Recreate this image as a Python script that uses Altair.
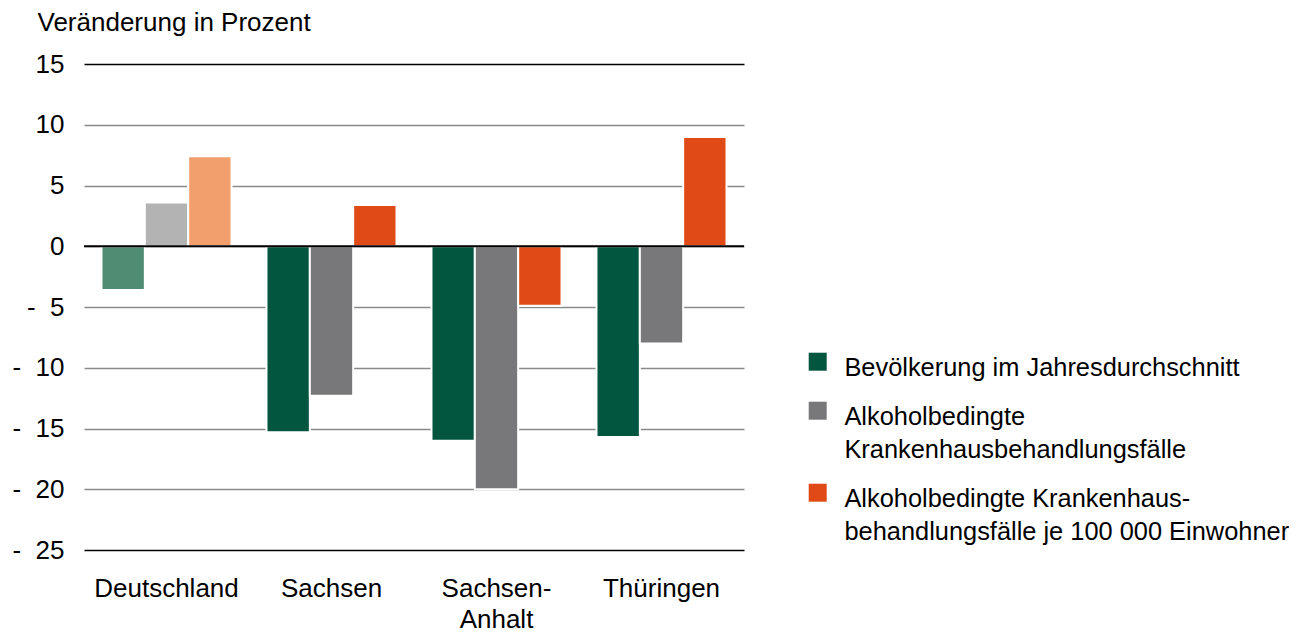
import altair as alt
import pandas as pd

# ---- data ----
regions = ["Deutschland", "Sachsen", "Sachsen-Anhalt", "Thüringen"]
legend_lines = [
    ["Bevölkerung im Jahresdurchschnitt"],
    ["Alkoholbedingte", "Krankenhausbehandlungsfälle"],
    ["Alkoholbedingte Krankenhaus-", "behandlungsfälle je 100 000 Einwohner"],
]
bevoelkerung = [-3.6, -15.3, -16.0, -15.7]
faelle = [3.6, -12.3, -20.0, -8.0]
faelle_je_100000 = [7.4, 3.4, -4.9, 9.0]
y_ticks = [-25, -20, -15, -10, -5, 0, 5, 10, 15]

colors_main = ["#02553f", "#78787a", "#df4a16"]
colors_light = ["#508b73", "#b3b3b4", "#f29f6d"]
highlight_region = "Deutschland"

series_keys = ["|".join(l) for l in legend_lines]
values = [bevoelkerung, faelle, faelle_je_100000]

rows = []
for i, r in enumerate(regions):
    for j, key in enumerate(series_keys):
        rows.append({
            "Region": r,
            "Reihe": key,
            "Farbe": ("D:" + key) if r == highlight_region else key,
            "Wert": values[j][i],
        })
df = pd.DataFrame(rows)
zero_df = pd.DataFrame({"Wert": [0]})

FONT = "Liberation Sans"
FS = 26
LEGEND_FS = 25.4

x_label_expr = (
    "indexof(datum.label, '-') > 0 ? "
    "[slice(datum.label, 0, indexof(datum.label, '-') + 1), "
    "slice(datum.label, indexof(datum.label, '-') + 1)] : datum.label"
)
y_label_expr = "datum.value < 0 ? '-\u00a0\u00a0' + abs(datum.value) : '' + datum.value"

# square symbol, shifted slightly downward so it lines up with the first text line
legend_symbol = "M-1,-0.333H1V1.667H-1Z"

bars = alt.Chart(df).mark_bar(stroke="white", strokeWidth=2).encode(
    x=alt.X(
        "Region:N",
        sort=regions,
        scale=alt.Scale(paddingInner=0.212, paddingOuter=0.106),
        axis=alt.Axis(
            title=None, domain=False, ticks=False, tickSize=0, labelAngle=0,
            labelExpr=x_label_expr, labelFontSize=FS, labelColor="black",
            labelPadding=25, labelLineHeight=31, labelBaseline="top",
        ),
    ),
    xOffset=alt.XOffset("Reihe:N", sort=series_keys,
                        scale=alt.Scale(paddingInner=0, paddingOuter=0)),
    y=alt.Y(
        "Wert:Q",
        scale=alt.Scale(domain=[-25, 15], nice=False),
        axis=alt.Axis(
            values=y_ticks, domain=False, ticks=False, tickSize=0,
            labelExpr=y_label_expr, labelFontSize=FS, labelColor="black",
            labelPadding=20,
            gridColor=alt.condition("datum.value == 15 || datum.value == -25",
                                    alt.value("black"), alt.value("#8a8a8a")),
            gridWidth=1.6,
            title="Veränderung in Prozent", titleAngle=0, titleAlign="left",
            titleBaseline="alphabetic", titleX=-47, titleY=-34,
            titleFontSize=FS, titleFontWeight="normal", titleColor="black",
        ),
    ),
    color=alt.Color(
        "Farbe:N",
        scale=alt.Scale(domain=series_keys + ["D:" + k for k in series_keys],
                        range=colors_main + colors_light),
        legend=alt.Legend(
            values=series_keys, title=None, orient="none",
            legendX=721, legendY=279, direction="vertical", padding=0,
            symbolType=legend_symbol, symbolSize=324, symbolStrokeWidth=0,
            labelExpr="split(datum.label, '|')", labelFontSize=LEGEND_FS,
            labelColor="black", labelBaseline="top", labelOffset=14,
            labelLimit=1000, rowPadding=10,
        ),
    ),
)

zero = alt.Chart(zero_df).mark_rule(color="black", strokeWidth=2).encode(y="Wert:Q")

chart = (
    alt.layer(bars, zero)
    .properties(
        width=660, height=486,
        autosize=alt.AutoSizeParams(type="none"),
        padding={"left": 76, "top": 56, "right": 545, "bottom": 83},
    )
    .configure(font=FONT, style={"guide-label": {"lineHeight": 33}})
    .configure_view(stroke=None)
)

chart.save("out.html", embed_options={"renderer": "svg", "actions": False})
